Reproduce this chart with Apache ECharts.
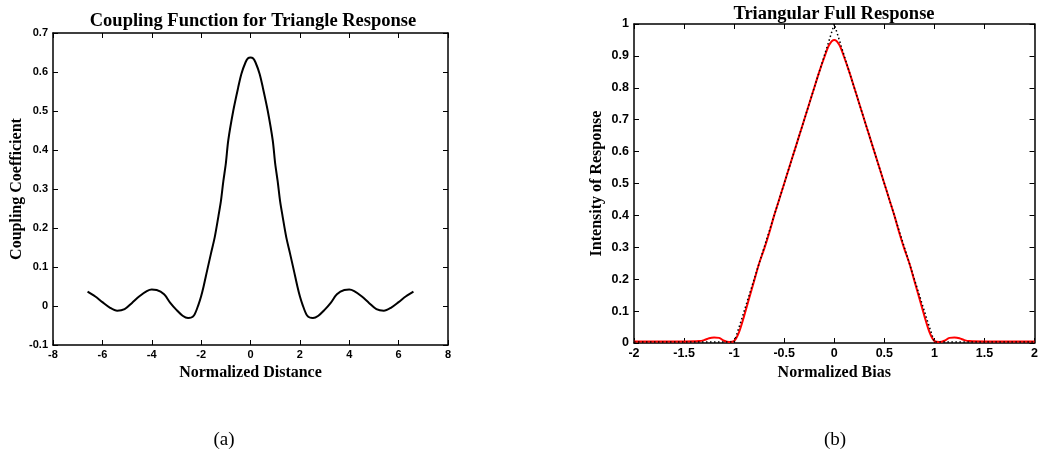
<!DOCTYPE html>
<html>
<head>
<meta charset="utf-8">
<script src="https://cdn.jsdelivr.net/npm/echarts@6/dist/echarts.min.js"></script>
<style>
html,body{margin:0;padding:0;background:#fff;}
#c{width:1041px;height:455px;}
</style>
</head>
<body>
<div id="c"></div>
<script>
// ---- Data (a): coupling function ----
var couplingX = [-6.6, -6.3, -6.0, -5.7, -5.4, -5.1, -4.8, -4.5, -4.2, -4.0, -3.8, -3.5, -3.25, -3.0, -2.75, -2.53, -2.3, -2.1, -2.0, -1.9, -1.76, -1.6, -1.45, -1.3, -1.2, -1.1, -1.0, -0.9, -0.7, -0.5, -0.37, -0.2, -0.1, 0,
                 0.1, 0.2, 0.37, 0.5, 0.7, 0.9, 1.0, 1.1, 1.2, 1.3, 1.45, 1.6, 1.76, 1.9, 2.0, 2.1, 2.3, 2.53, 2.75, 3.0, 3.25, 3.5, 3.8, 4.0, 4.2, 4.5, 4.8, 5.1, 5.4, 5.7, 6.0, 6.3, 6.6];
var couplingY = [0.037, 0.025, 0.01, -0.004, -0.012, -0.008, 0.008, 0.025, 0.038, 0.042, 0.041, 0.03, 0.008, -0.01, -0.025, -0.031, -0.025, 0.005, 0.025, 0.05, 0.09, 0.135, 0.176, 0.23, 0.268, 0.32, 0.365, 0.425, 0.50, 0.56, 0.595, 0.625, 0.635, 0.637,
                 0.635, 0.625, 0.595, 0.56, 0.50, 0.425, 0.365, 0.32, 0.268, 0.23, 0.176, 0.135, 0.09, 0.05, 0.025, 0.005, -0.025, -0.031, -0.025, -0.01, 0.008, 0.03, 0.041, 0.042, 0.038, 0.025, 0.008, -0.008, -0.012, -0.004, 0.01, 0.025, 0.037];

// ---- Data (b): triangular full response ----
var biasX = [-2, -1.5, -1.35, -1.3, -1.25, -1.2, -1.15, -1.1, -1.05, -1.0, -0.95, -0.9, -0.85, -0.8, -0.75, -0.7, -0.65, -0.6, -0.55, -0.5, -0.45, -0.4, -0.35, -0.3, -0.25, -0.2, -0.15, -0.1, -0.05, 0,
             0.05, 0.1, 0.15, 0.2, 0.25, 0.3, 0.35, 0.4, 0.45, 0.5, 0.55, 0.6, 0.65, 0.7, 0.75, 0.8, 0.85, 0.9, 0.95, 1.0, 1.05, 1.1, 1.15, 1.2, 1.25, 1.3, 1.35, 1.5, 2];
var idealResp = [0.003, 0.003, 0.003, 0.003, 0.003, 0.003, 0.003, 0.003, 0.003, 0.003, 0.05, 0.1, 0.15, 0.2, 0.25, 0.3, 0.35, 0.4, 0.45, 0.5, 0.55, 0.6, 0.65, 0.7, 0.75, 0.8, 0.85, 0.9, 0.95, 1.0,
                 0.95, 0.9, 0.85, 0.8, 0.75, 0.7, 0.65, 0.6, 0.55, 0.5, 0.45, 0.4, 0.35, 0.3, 0.25, 0.2, 0.15, 0.1, 0.05, 0.003, 0.003, 0.003, 0.003, 0.003, 0.003, 0.003, 0.003, 0.003, 0.003];
var fullResp = [0.005, 0.005, 0.006, 0.009, 0.015, 0.017, 0.016, 0.007, 0.003, 0.006, 0.035, 0.085, 0.14, 0.195, 0.25, 0.295, 0.345, 0.4, 0.45, 0.5, 0.55, 0.6, 0.65, 0.7, 0.75, 0.8, 0.85, 0.895, 0.935, 0.95,
                0.935, 0.895, 0.85, 0.8, 0.75, 0.7, 0.65, 0.6, 0.55, 0.5, 0.45, 0.4, 0.345, 0.295, 0.25, 0.195, 0.14, 0.085, 0.035, 0.006, 0.003, 0.007, 0.016, 0.017, 0.015, 0.009, 0.006, 0.005, 0.005];

function pairs(xs, ys){ return xs.map(function(x,i){ return [x, ys[i]]; }); }

var SERIF = '"Liberation Serif", "Times New Roman", serif';
var SANS = '"Liberation Sans", Arial, sans-serif';

function mainX(grid, min, max, interval, name, fs, gap){
  return {
    type:'value', gridIndex:grid, min:min, max:max, interval:interval, position:'bottom',
    name:name, nameLocation:'middle', nameGap:gap,
    nameTextStyle:{fontFamily:SERIF, fontWeight:'bold', fontSize:16, color:'#000'},
    axisLine:{show:true, onZero:false, lineStyle:{color:'#000', width:1.5}},
    axisTick:{show:true, inside:true, length:5, lineStyle:{color:'#000', width:1}},
    axisLabel:{show:true, margin:4, fontFamily:SANS, fontWeight:'bold', fontSize:fs, color:'#000'},
    splitLine:{show:false}
  };
}
function mirrorX(grid, min, max, interval){
  return {
    type:'value', gridIndex:grid, min:min, max:max, interval:interval, position:'top',
    axisLine:{show:true, onZero:false, lineStyle:{color:'#000', width:1.5}},
    axisTick:{show:true, inside:true, length:5, lineStyle:{color:'#000', width:1}},
    axisLabel:{show:false}, splitLine:{show:false}
  };
}
function mainY(grid, min, max, interval, name, fs, gap){
  return {
    type:'value', gridIndex:grid, min:min, max:max, interval:interval, position:'left',
    name:name, nameLocation:'middle', nameGap:gap,
    nameTextStyle:{fontFamily:SERIF, fontWeight:'bold', fontSize:16, color:'#000'},
    axisLine:{show:true, onZero:false, lineStyle:{color:'#000', width:1.5}},
    axisTick:{show:true, inside:true, length:5, lineStyle:{color:'#000', width:1}},
    axisLabel:{show:true, margin:5, fontFamily:SANS, fontWeight:'bold', fontSize:fs, color:'#000',
      formatter:function(v){ return String(Math.round(v*10)/10); }},
    splitLine:{show:false}
  };
}
function mirrorY(grid, min, max, interval){
  return {
    type:'value', gridIndex:grid, min:min, max:max, interval:interval, position:'right',
    axisLine:{show:true, onZero:false, lineStyle:{color:'#000', width:1.5}},
    axisTick:{show:true, inside:true, length:5, lineStyle:{color:'#000', width:1}},
    axisLabel:{show:false}, splitLine:{show:false}
  };
}

var chart = echarts.init(document.getElementById('c'), null, {renderer:'canvas'});
chart.setOption({
  animation:false,
  backgroundColor:'#fff',
  title:[
    {text:'Coupling Function for Triangle Response', left:248, top:7, textAlign:'center',
     textStyle:{fontFamily:SERIF, fontWeight:'bold', fontSize:18.5, color:'#000'}},
    {text:'Triangular Full Response', left:829, top:0, textAlign:'center',
     textStyle:{fontFamily:SERIF, fontWeight:'bold', fontSize:18.5, color:'#000'}},
    {text:'(a)', left:219, top:426, textAlign:'center',
     textStyle:{fontFamily:SERIF, fontWeight:'normal', fontSize:19, color:'#000'}},
    {text:'(b)', left:830, top:426, textAlign:'center',
     textStyle:{fontFamily:SERIF, fontWeight:'normal', fontSize:19, color:'#000'}}
  ],
  grid:[
    {left:53, right:593, top:33, bottom:110},
    {left:634, right:4, top:24, bottom:112}
  ],
  xAxis:[
    mainX(0, -8, 8, 2, 'Normalized Distance', 11, 19),
    mirrorX(0, -8, 8, 2),
    mainX(1, -2, 2, 0.5, 'Normalized Bias', 12.5, 19),
    mirrorX(1, -2, 2, 0.5)
  ],
  yAxis:[
    mainY(0, -0.1, 0.7, 0.1, 'Coupling Coefficient', 11, 28),
    mirrorY(0, -0.1, 0.7, 0.1),
    mainY(1, 0, 1, 0.1, 'Intensity of Response', 12.5, 29),
    mirrorY(1, 0, 1, 0.1)
  ],
  series:[
    {type:'line', xAxisIndex:0, yAxisIndex:0, data:pairs(couplingX, couplingY), smooth:0.3,
     showSymbol:false, lineStyle:{color:'#000', width:2}},
    {type:'line', xAxisIndex:2, yAxisIndex:2, data:pairs(biasX, fullResp), smooth:0.3,
     showSymbol:false, lineStyle:{color:'#ff0000', width:2}},
    {type:'line', xAxisIndex:2, yAxisIndex:2, data:pairs(biasX, idealResp),
     showSymbol:false, lineStyle:{color:'#000', width:1.5, type:[1.5,2.5]}, z:3}
  ]
});
</script>
</body>
</html>
